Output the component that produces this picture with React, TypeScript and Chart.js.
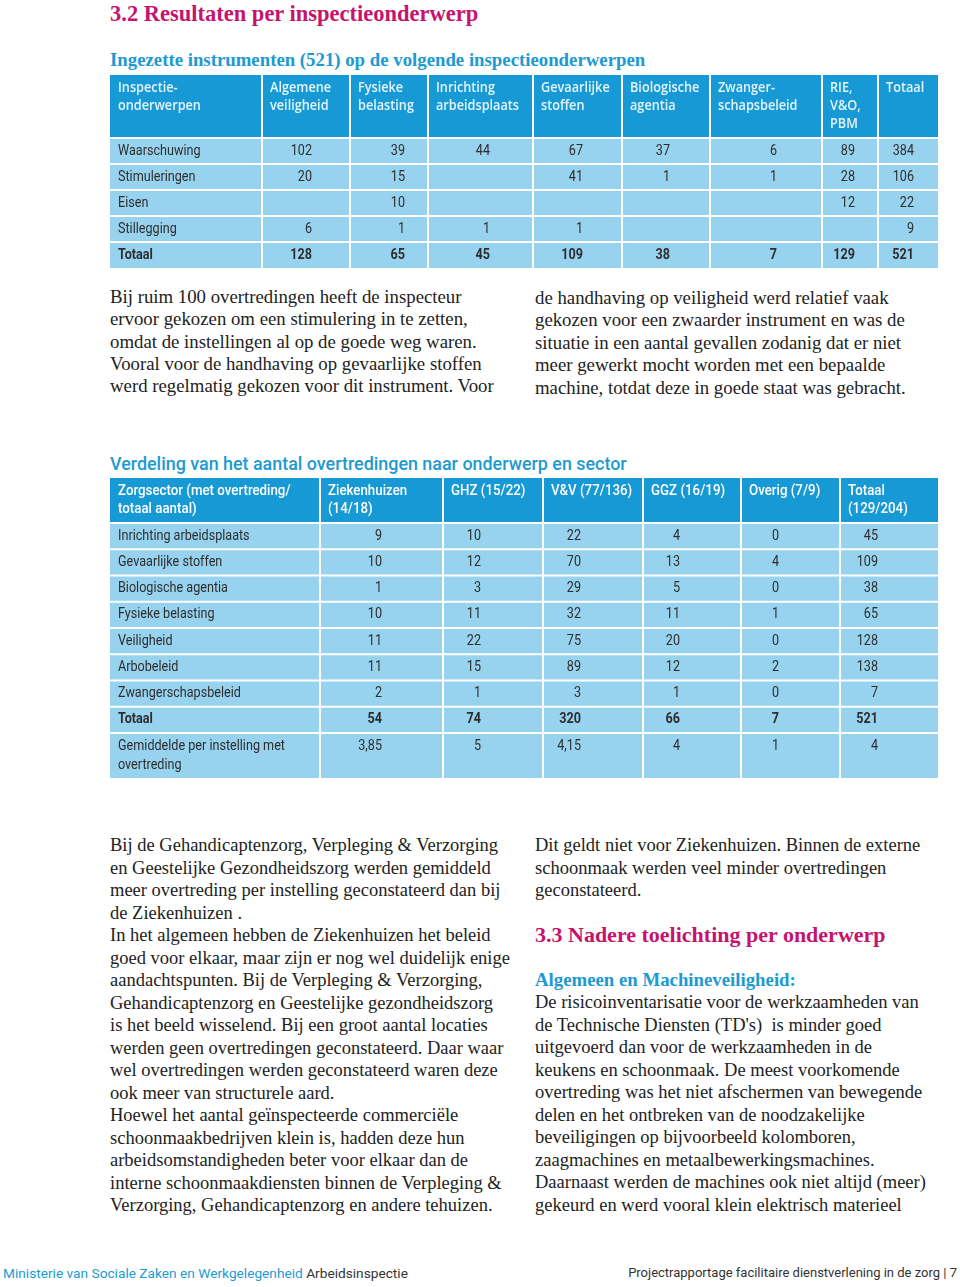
import React, { useEffect, useRef } from "react";
import { Chart, registerables } from "chart.js";

Chart.register(...registerables);

// ---------- Table 1 data ----------
const T1_HEADERS: string[][] = [
  ["Inspectie-", "onderwerpen"],
  ["Algemene", "veiligheid"],
  ["Fysieke", "belasting"],
  ["Inrichting", "arbeidsplaats"],
  ["Gevaarlijke", "stoffen"],
  ["Biologische", "agentia"],
  ["Zwanger-", "schapsbeleid"],
  ["RIE,", "V&O,", "PBM"],
  ["Totaal"],
];
const T1_ROW_LABELS = ["Waarschuwing", "Stimuleringen", "Eisen", "Stillegging", "Totaal"];
const T1_WAARSCHUWING = ["102", "39", "44", "67", "37", "6", "89", "384"];
const T1_STIMULERINGEN = ["20", "15", "", "41", "1", "1", "28", "106"];
const T1_EISEN = ["", "10", "", "", "", "", "12", "22"];
const T1_STILLEGGING = ["6", "1", "1", "1", "", "", "", "9"];
const T1_TOTAAL = ["128", "65", "45", "109", "38", "7", "129", "521"];

// ---------- Table 2 data ----------
const T2_HEADERS: string[][] = [
  ["Zorgsector (met overtreding/", "totaal aantal)"],
  ["Ziekenhuizen", "(14/18)"],
  ["GHZ (15/22)"],
  ["V&V (77/136)"],
  ["GGZ (16/19)"],
  ["Overig (7/9)"],
  ["Totaal", "(129/204)"],
];
const T2_ROW_LABELS: string[][] = [
  ["Inrichting arbeidsplaats"],
  ["Gevaarlijke stoffen"],
  ["Biologische agentia"],
  ["Fysieke belasting"],
  ["Veiligheid"],
  ["Arbobeleid"],
  ["Zwangerschapsbeleid"],
  ["Totaal"],
  ["Gemiddelde per instelling met", "overtreding"],
];
const T2_INRICHTING = ["9", "10", "22", "4", "0", "45"];
const T2_GEVAARLIJK = ["10", "12", "70", "13", "4", "109"];
const T2_BIOLOGISCH = ["1", "3", "29", "5", "0", "38"];
const T2_FYSIEK = ["10", "11", "32", "11", "1", "65"];
const T2_VEILIGHEID = ["11", "22", "75", "20", "0", "128"];
const T2_ARBOBELEID = ["11", "15", "89", "12", "2", "138"];
const T2_ZWANGER = ["2", "1", "3", "1", "0", "7"];
const T2_TOTAAL = ["54", "74", "320", "66", "7", "521"];
const T2_GEMIDDELDE = ["3,85", "5", "4,15", "4", "1", "4"];

// ---------- styling / layout ----------
const HEAD_BLUE = "#1799d6";
const BODY_BLUE = "#97d2ee";
const BODY_TEXT = "#2e2e2e";
const MAGENTA = "#c5146d";
const TEAL = "#1c9ad1";

type TableSpec = {
  width: number;
  height: number;
  colEdges: number[];
  valueRight: number[];
  rowHeights: number[];
  headers: string[][];
  labels: string[][];
  values: string[][];
  boldRows: number[];
  headFont: string;
  headScale: number;
  headColor: string;
  bodyFont: string;
  boldFont: string;
  bodyScale: number;
};

function drawText(ctx: CanvasRenderingContext2D, text: string, x: number, y: number, align: CanvasTextAlign, sx: number) {
  ctx.save();
  ctx.translate(x, y);
  ctx.scale(sx, 1);
  ctx.textAlign = align;
  ctx.textBaseline = "middle";
  ctx.fillText(text, 0, 0);
  ctx.restore();
}

function makeTablePlugin(spec: TableSpec) {
  return {
    id: "tableDraw",
    afterDraw(chart: any) {
      const ctx: CanvasRenderingContext2D = chart.ctx;
      const X = (v: number) => chart.scales.x.getPixelForValue(v);
      const Y = (v: number) => chart.scales.y.getPixelForValue(v);
      const tops: number[] = [0];
      spec.rowHeights.forEach((h, i) => tops.push(tops[i] + h));
      const nCols = spec.colEdges.length - 1;
      ctx.save();
      for (let r = 0; r < spec.rowHeights.length; r++) {
        ctx.fillStyle = r === 0 ? HEAD_BLUE : BODY_BLUE;
        ctx.fillRect(X(0), Y(tops[r]), X(spec.width) - X(0), Y(tops[r + 1]) - Y(tops[r]));
      }
      ctx.fillStyle = "#ffffff";
      for (let c = 1; c < nCols; c++) {
        const px = X(spec.colEdges[c]);
        ctx.fillRect(px - 1, Y(0), 2, Y(spec.height) - Y(0));
      }
      for (let r = 1; r < spec.rowHeights.length; r++) {
        const py = Y(tops[r]);
        ctx.fillRect(X(0), py - 1, X(spec.width) - X(0), 2);
      }
      ctx.fillStyle = spec.headColor;
      ctx.font = spec.headFont;
      spec.headers.forEach((lines, c) => {
        lines.forEach((ln, i) => {
          drawText(ctx, ln, X(spec.colEdges[c] + 8), Y(13 + i * 18), "left", spec.headScale);
        });
      });
      ctx.fillStyle = BODY_TEXT;
      for (let r = 0; r < spec.labels.length; r++) {
        const rowTop = tops[r + 1];
        const rowH = spec.rowHeights[r + 1];
        const multi = spec.labels[r].length > 1;
        const firstY = multi ? rowTop + 13 : rowTop + rowH / 2;
        ctx.font = spec.boldRows.includes(r) ? spec.boldFont : spec.bodyFont;
        spec.labels[r].forEach((ln, i) => {
          drawText(ctx, ln, X(spec.colEdges[0] + 8), Y(firstY + i * 19), "left", spec.bodyScale);
        });
        spec.values[r].forEach((v, c) => {
          if (v !== "") drawText(ctx, v, X(spec.valueRight[c]), Y(firstY), "right", spec.bodyScale);
        });
      }
      ctx.restore();
    },
  };
}

function TableChart({ spec, left, top }: { spec: TableSpec; left: number; top: number }) {
  const ref = useRef<HTMLCanvasElement | null>(null);
  useEffect(() => {
    if (!ref.current) return;
    const chart = new Chart(ref.current, {
      type: "scatter",
      data: { datasets: [{ data: [], showLine: false }] },
      options: {
        animation: false,
        responsive: false,
        maintainAspectRatio: false,
        layout: { padding: 0 },
        events: [],
        plugins: { legend: { display: false }, tooltip: { enabled: false }, title: { display: false } },
        scales: {
          x: { type: "linear", display: false, min: 0, max: spec.width },
          y: { type: "linear", display: false, min: 0, max: spec.height, reverse: true },
        },
      },
      plugins: [makeTablePlugin(spec)],
    });
    return () => chart.destroy();
  }, [spec]);
  return (
    <canvas
      ref={ref}
      width={spec.width}
      height={spec.height}
      style={{ position: "absolute", left, top, width: spec.width, height: spec.height, display: "block" }}
    />
  );
}

const TABLE1: TableSpec = {
  width: 828,
  height: 193,
  colEdges: [0, 152, 240, 318, 423, 512, 600, 712, 768, 828],
  valueRight: [202, 295, 380, 473, 560, 667, 745, 804],
  rowHeights: [63, 26, 26, 26, 26, 26],
  headers: T1_HEADERS,
  labels: T1_ROW_LABELS.map((l) => [l]),
  values: [T1_WAARSCHUWING, T1_STIMULERINGEN, T1_EISEN, T1_STILLEGGING, T1_TOTAAL],
  boldRows: [4],
  headFont: '600 13.5px "Open Sans"',
  headScale: 0.94,
  headColor: "#e6f5fc",
  bodyFont: '400 14px Roboto',
  boldFont: '700 14px Roboto',
  bodyScale: 0.9,
};

const TABLE2: TableSpec = {
  width: 828,
  height: 300,
  colEdges: [0, 210, 333, 433, 533, 631, 730, 828],
  valueRight: [272, 371, 471, 570, 669, 768],
  rowHeights: [45, 26.25, 26.25, 26.25, 26.25, 26.25, 26.25, 26.25, 26.25, 45],
  headers: T2_HEADERS,
  labels: T2_ROW_LABELS,
  values: [T2_INRICHTING, T2_GEVAARLIJK, T2_BIOLOGISCH, T2_FYSIEK, T2_VEILIGHEID, T2_ARBOBELEID, T2_ZWANGER, T2_TOTAAL, T2_GEMIDDELDE],
  boldRows: [7],
  headFont: '500 14px Roboto',
  headScale: 0.95,
  headColor: "#ffffff",
  bodyFont: '400 14px Roboto',
  boldFont: '700 14px Roboto',
  bodyScale: 0.9,
};

// ---------- page text ----------
const TOP_LEFT = [
  "Bij ruim 100 overtredingen heeft de inspecteur",
  "ervoor gekozen om een stimulering in te zetten,",
  "omdat de instellingen al op de goede weg waren.",
  "Vooral voor de handhaving op gevaarlijke stoffen",
  "werd regelmatig gekozen voor dit instrument. Voor",
];
const TOP_LEFT_Y = [297, 319, 342, 364, 386];
const TOP_RIGHT = [
  "de handhaving op veiligheid werd relatief vaak",
  "gekozen voor een zwaarder instrument en was de",
  "situatie in een aantal gevallen zodanig dat er niet",
  "meer gewerkt mocht worden met een bepaalde",
  "machine, totdat deze in goede staat was gebracht.",
];
const TOP_RIGHT_Y = [298, 320, 343, 365, 388];
const LOW_LEFT = [
  "Bij de Gehandicaptenzorg, Verpleging & Verzorging",
  "en Geestelijke Gezondheidszorg werden gemiddeld",
  "meer overtreding per instelling geconstateerd dan bij",
  "de Ziekenhuizen .",
  "In het algemeen hebben de Ziekenhuizen het beleid",
  "goed voor elkaar, maar zijn er nog wel duidelijk enige",
  "aandachtspunten. Bij de Verpleging & Verzorging,",
  "Gehandicaptenzorg en Geestelijke gezondheidszorg",
  "is het beeld wisselend. Bij een groot aantal locaties",
  "werden geen overtredingen geconstateerd. Daar waar",
  "wel overtredingen werden geconstateerd waren deze",
  "ook meer van structurele aard.",
  "Hoewel het aantal geïnspecteerde commerciële",
  "schoonmaakbedrijven klein is, hadden deze hun",
  "arbeidsomstandigheden beter voor elkaar dan de",
  "interne schoonmaakdiensten binnen de Verpleging &",
  "Verzorging, Gehandicaptenzorg en andere tehuizen.",
];
const LOW_RIGHT_A = [
  "Dit geldt niet voor Ziekenhuizen. Binnen de externe",
  "schoonmaak werden veel minder overtredingen",
  "geconstateerd.",
];
const LOW_RIGHT_B = [
  "De risicoinventarisatie voor de werkzaamheden van",
  "de Technische Diensten (TD's)  is minder goed",
  "uitgevoerd dan voor de werkzaamheden in de",
  "keukens en schoonmaak. De meest voorkomende",
  "overtreding was het niet afschermen van bewegende",
  "delen en het ontbreken van de noodzakelijke",
  "beveiligingen op bijvoorbeeld kolomboren,",
  "zaagmachines en metaalbewerkingsmachines.",
  "Daarnaast werden de machines ook niet altijd (meer)",
  "gekeurd en werd vooral klein elektrisch materieel",
];

const SERIF = '"Liberation Serif", "DejaVu Serif", serif';
const SANS = 'Roboto, "Open Sans", sans-serif';

function Line({ x, cy, size = 18.5, weight = 400, color = "#222", family = SERIF, children, ls = 0 }: any) {
  return (
    <div
      style={{
        position: "absolute",
        left: x,
        top: cy - 12,
        height: 24,
        lineHeight: "24px",
        fontSize: size,
        fontWeight: weight,
        color,
        fontFamily: family,
        whiteSpace: "pre",
        letterSpacing: ls,
      }}
    >
      {children}
    </div>
  );
}

export default function App() {
  useEffect(() => {
    document.body.style.margin = "0";
    document.body.style.background = "#ffffff";
  }, []);
  const step = 22.5;
  return (
    <div style={{ position: "relative", width: 960, height: 1287, overflow: "hidden", background: "#fff" }}>
      <style>{"body{margin:0}"}</style>
      <Line x={110} cy={14} size={22.5} weight={700} color={MAGENTA}>3.2 Resultaten per inspectieonderwerp</Line>
      <Line x={110} cy={60} size={18.8} weight={700} color={TEAL}>Ingezette instrumenten (521) op de volgende inspectieonderwerpen</Line>
      <TableChart spec={TABLE1} left={110} top={75} />
      {TOP_LEFT.map((t, i) => (
        <Line key={"tl" + i} x={110} cy={TOP_LEFT_Y[i]} size={18.8}>{t}</Line>
      ))}
      {TOP_RIGHT.map((t, i) => (
        <Line key={"tr" + i} x={535} cy={TOP_RIGHT_Y[i]} size={18.8}>{t}</Line>
      ))}
      <Line x={110} cy={464} size={17.9} weight={500} color={TEAL} family={SANS}>Verdeling van het aantal overtredingen naar onderwerp en sector</Line>
      <TableChart spec={TABLE2} left={110} top={478} />
      {LOW_LEFT.map((t, i) => (
        <Line key={"ll" + i} x={110} cy={845 + i * step}>{t}</Line>
      ))}
      {LOW_RIGHT_A.map((t, i) => (
        <Line key={"ra" + i} x={535} cy={845 + i * step}>{t}</Line>
      ))}
      <Line x={535} cy={935} size={22} weight={700} color={MAGENTA}>3.3 Nadere toelichting per onderwerp</Line>
      <Line x={535} cy={980} size={18.8} weight={700} color={TEAL}>Algemeen en Machineveiligheid:</Line>
      {LOW_RIGHT_B.map((t, i) => (
        <Line key={"rb" + i} x={535} cy={1002 + i * step}>{t}</Line>
      ))}
      <div
        style={{
          position: "absolute",
          left: 3,
          top: 1263,
          height: 20,
          lineHeight: "20px",
          fontSize: 13.7,
          fontFamily: SANS,
          whiteSpace: "pre",
        }}
      >
        <span style={{ color: TEAL }}>Ministerie van Sociale Zaken en Werkgelegenheid</span>
        <span style={{ color: "#333" }}> Arbeidsinspectie</span>
      </div>
      <div
        style={{
          position: "absolute",
          right: 3,
          top: 1263,
          height: 20,
          lineHeight: "20px",
          fontSize: 13,
          fontFamily: SANS,
          color: "#333",
          whiteSpace: "pre",
        }}
      >
        Projectrapportage facilitaire dienstverlening in de zorg | 7
      </div>
    </div>
  );
}
